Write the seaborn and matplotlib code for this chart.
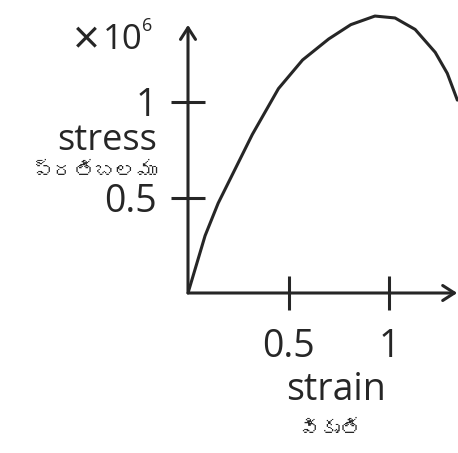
import matplotlib
matplotlib.use("Agg")
import matplotlib.pyplot as plt
from matplotlib import font_manager
import seaborn as sns

# values (stress in units of 10^6)
strain = [0, 0.085, 0.15, 0.235, 0.32, 0.45, 0.57, 0.7, 0.81, 0.93, 1.03, 1.13, 1.23, 1.29, 1.34]
stress = [0, 0.30, 0.47, 0.65, 0.83, 1.07, 1.22, 1.33, 1.405, 1.45, 1.44, 1.38, 1.26, 1.15, 1.01]
x_ticks = [0.5, 1]
y_ticks = [0.5, 1]
x_label = "strain"
x_label_te = "వికృతి"
y_label = "stress"
y_label_te = "ప్రతిబలము"
y_scale = "10"
y_scale_exp = "6"

INK = "#262626"


def find_font(ch):
    """Return the name of an installed font that has the glyph, or None."""
    from fontTools.ttLib import TTFont
    for f in font_manager.fontManager.ttflist:
        try:
            cmap = TTFont(f.fname, fontNumber=0, lazy=True).getBestCmap()
        except Exception:
            continue
        if cmap and ord(ch) in cmap:
            return f.name
    return None


sns.set_theme(style="white")
plt.rcParams["font.family"] = ["Open Sans", "DejaVu Sans"]
te_font = find_font("త")
te_family = [te_font] if te_font else ["Noto Sans", "DejaVu Sans"]

fig = plt.figure(figsize=(4.58, 4.53), dpi=100)
ax = fig.add_axes([188 / 458, 160 / 453, 270 / 458, 293 / 453])

sns.lineplot(x=strain, y=stress, estimator=None, color=INK, lw=2.2, ax=ax)

ax.set_xlim(0, 270 / 201)
ax.set_ylim(0, 293 / 191)
for s in ax.spines.values():
    s.set_visible(False)

# axes drawn as arrows
arrow = dict(arrowstyle="->,head_length=0.7,head_width=0.45", color=INK, lw=2.2,
             shrinkA=0, shrinkB=0)
ax.annotate("", xy=(0.997, 0), xytext=(0, 0), xycoords="axes fraction",
            arrowprops=arrow, annotation_clip=False)
ax.annotate("", xy=(0, 0.915), xytext=(0, 0), xycoords="axes fraction",
            arrowprops=arrow, annotation_clip=False)

ax.set_xticks(x_ticks)
ax.set_yticks(y_ticks)
ax.set_xticklabels(["0.5", "1"])
ax.set_yticklabels(["0.5", "1"])
ax.tick_params(axis="both", direction="inout", length=25, width=2.2, color=INK,
               labelcolor=INK, labelsize=27)
ax.tick_params(axis="x", pad=13, bottom=True)
ax.tick_params(axis="y", pad=10, left=True)

# axis labels, placed as in the drawing
fig.text(157 / 458, 1 - 141 / 453, y_label, ha="right", va="center", fontsize=26, color=INK)
fig.text(157 / 458, 1 - 172 / 453, y_label_te, ha="right", va="center", fontsize=15,
         color=INK, family=te_family)
fig.text(336 / 458, 1 - 390 / 453, x_label, ha="center", va="center", fontsize=27, color=INK)
fig.text(329 / 458, 1 - 430 / 453, x_label_te, ha="center", va="center", fontsize=15,
         color=INK, family=te_family)
fig.text(86 / 458, 1 - 42 / 453, "×", ha="center", va="center", fontsize=34,
         fontweight="normal", color=INK)
fig.text(143 / 458, 1 - 40 / 453, y_scale, ha="right", va="center", fontsize=25, color=INK)
fig.text(142 / 458, 1 - 26 / 453, y_scale_exp, ha="left", va="center", fontsize=13, color=INK)

fig.savefig("out.png", dpi=100, facecolor="white")
